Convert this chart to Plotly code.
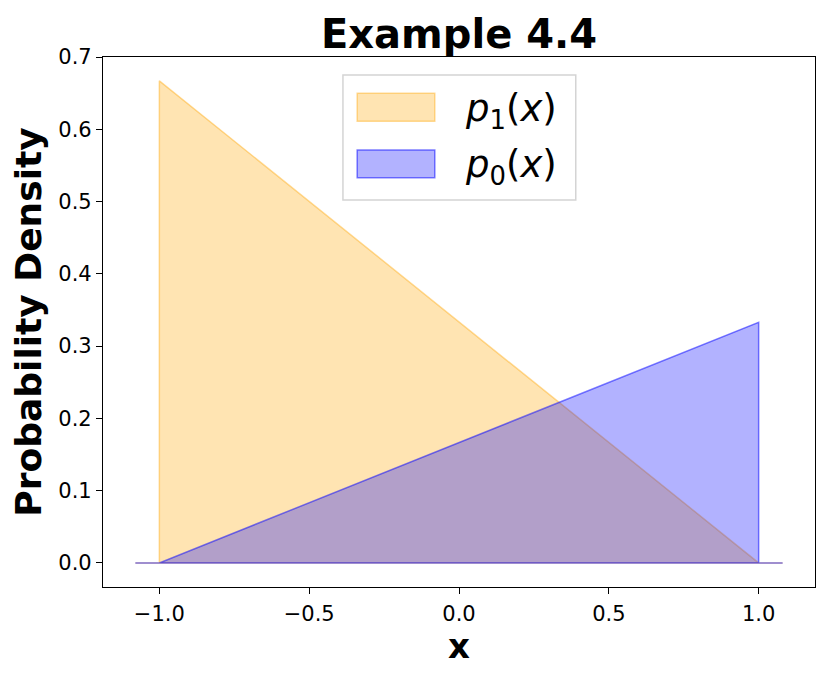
import plotly.graph_objects as go

# densities sampled at the breakpoints (fill_between style, zero outside [-1, 1])
x_pts = [-1.08, -1.0, -1.0, 1.0, 1.0, 1.08]
p1_vals = [0, 0, 0.667, 0, 0, 0]
p0_vals = [0, 0, 0, 0.333, 0, 0]

x_ticks = [-1.0, -0.5, 0.0, 0.5, 1.0]
y_ticks = [0.0, 0.1, 0.2, 0.3, 0.4, 0.5, 0.6, 0.7]

labels = ['<i>p</i><sub>1</sub>(<i>x</i>)', '<i>p</i><sub>0</sub>(<i>x</i>)']
fills = ['rgba(255,165,0,0.3)', 'rgba(0,0,255,0.3)']
edges = ['rgba(255,165,0,0.4)', 'rgba(0,0,255,0.5)']

font = 'DejaVu Sans'

fig = go.Figure()
for yv, lab, fc, ec in zip([p1_vals, p0_vals], labels, fills, edges):
    # closed polygon down to zero, like fill_between, so the baseline edge is drawn too
    fig.add_trace(go.Scatter(
        x=x_pts + x_pts[::-1], y=yv + [0] * len(yv), mode='lines', fill='toself',
        fillcolor=fc, line=dict(color=ec, width=1.5),
        name=lab, showlegend=False,
    ))

axis_common = dict(
    showline=True, linecolor='black', linewidth=1.2, mirror=True,
    ticks='outside', ticklen=6, tickcolor='black', tickwidth=1.2,
    showgrid=False, zeroline=False,
    tickfont=dict(family=font, size=21, color='black'),
)
fig.update_xaxes(
    range=[-1.188, 1.188], tickvals=x_ticks, tickformat='.1f', ticklabelstandoff=2,
    automargin=True,
    title=dict(text='<b>x</b>', font=dict(family=font, size=34, color='black'), standoff=2),
    **axis_common,
)
fig.update_yaxes(
    range=[-0.0333, 0.7], tickvals=y_ticks, tickformat='.1f', automargin=False,
    title=dict(text='<b>Probability Density</b>', font=dict(family=font, size=36, color='black')),
    **axis_common,
)

# legend box drawn by hand to get matplotlib-sized patches
fig.add_shape(type='rect', xref='paper', yref='paper', x0=0.337, x1=0.664, y0=0.730, y1=0.966,
              line=dict(color='#d4d4d4', width=1.5), fillcolor='rgba(255,255,255,0.8)', layer='above')
patch_y = [(0.879, 0.9315), (0.772, 0.8245)]
text_y = [0.899, 0.792]
for (y0, y1), ty, lab, fc, ec in zip(patch_y, text_y, labels, fills, edges):
    fig.add_shape(type='rect', xref='paper', yref='paper', x0=0.357, x1=0.466, y0=y0, y1=y1,
                  line=dict(color=ec, width=1.5), fillcolor=fc, layer='above')
    fig.add_annotation(xref='paper', yref='paper', x=0.505, y=ty, xanchor='left', yanchor='middle',
                       text=lab, showarrow=False, font=dict(family=font, size=37, color='black'))

# the page body adds an 8px offset, so margins are shifted to compensate
fig.update_layout(
    width=830, height=678,
    margin=dict(l=95, r=23, t=49, b=99),
    plot_bgcolor='white', paper_bgcolor='white',
    font=dict(family=font, color='black'),
    showlegend=False,
    title=dict(text='<b>Example 4.4</b>', x=0.5434, xanchor='center', yref='container', y=0.962,
               yanchor='middle', font=dict(family=font, size=40, color='black')),
)

fig.write_html('out.html')
